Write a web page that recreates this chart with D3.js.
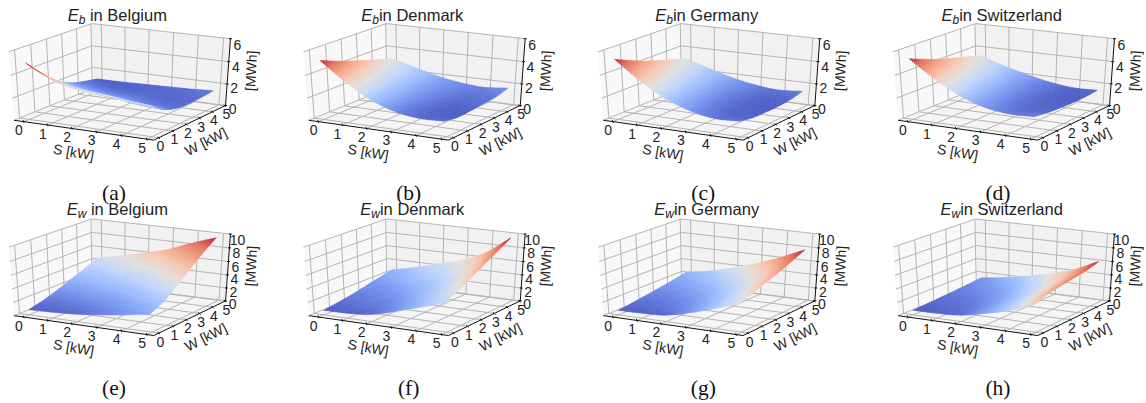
<!DOCTYPE html>
<html>
<head>
<meta charset="utf-8">
<style>
  html, body { margin: 0; background: #fff; }
  svg { display: block; }
  text { font-family: "Liberation Sans", sans-serif; fill: #222; }
  .caption { font-family: "Liberation Serif", serif; font-size: 21.5px; fill: #111; text-anchor: middle; }
  .title { font-size: 16.5px; text-anchor: middle; }
  .tick { font-size: 14px; text-anchor: middle; }
  .axis-label { font-size: 14px; text-anchor: middle; }
</style>
</head>
<body>
<svg id="chart" width="1146" height="403"></svg>
<script src="https://d3js.org/d3.v7.min.js"></script>
<script>
var sTicks = [0, 1, 2, 3, 4, 5];
var wTicks = [0, 1, 2, 3, 4, 5];
var batteryTicks = [0, 2, 4, 6];
var windTicks = [0, 2, 4, 6, 8, 10];

// where the six table rows / columns sit against the drawn axes
var surfaceS = [0, 0.98, 1.96, 2.94, 3.92, 4.9];
var surfaceW = [0, 0.94, 1.88, 2.82, 3.76, 4.7];

// rows run along S, columns along W, values in MWh
var ebBelgium = [[5.0,3.6,2.5,1.8,1.45,1.2],[3.9,2.9,2.1,1.6,1.3,1.2],[3.3,2.5,1.85,1.45,1.25,1.25],[3.15,2.3,1.7,1.4,1.3,1.3],[2.9,2.0,1.5,1.3,1.3,1.35],[2.7,1.85,1.4,1.3,1.35,1.45]];
var ebDenmark = [[5.2,4.7,4.25,3.85,3.45,3.1],[3.65,3.4,3.15,2.95,2.75,2.55],[2.4,2.3,2.2,2.1,2.05,2.0],[1.6,1.55,1.55,1.6,1.6,1.65],[1.3,1.2,1.2,1.3,1.4,1.5],[1.35,1.15,1.2,1.3,1.4,1.7]];
var ebGermany = [[5.3,4.75,4.25,3.85,3.45,3.1],[3.75,3.4,3.1,2.85,2.65,2.45],[2.5,2.3,2.15,2.0,1.9,1.85],[1.7,1.55,1.45,1.4,1.4,1.45],[1.3,1.15,1.1,1.1,1.15,1.25],[1.35,1.1,1.05,1.05,1.15,1.4]];
var ebSwitzerland = [[5.35,4.85,4.4,4.05,3.7,3.35],[3.9,3.6,3.35,3.1,2.9,2.7],[2.75,2.6,2.45,2.3,2.2,2.15],[2.0,1.9,1.8,1.75,1.7,1.7],[1.7,1.55,1.5,1.45,1.45,1.45],[1.75,1.55,1.45,1.4,1.4,1.5]];
var ewBelgium = [[.8,1.3,2.0,2.8,3.6,4.5],[.9,1.4,2.2,3.1,4.1,5.3],[1.1,1.65,2.55,3.6,4.8,6.1],[1.5,2.1,3.05,4.2,5.6,7.05],[2.0,2.75,3.9,5.2,6.9,8.4],[2.6,3.5,5.0,6.6,8.2,9.6]];
var ewDenmark = [[.7,1.0,1.35,1.8,2.25,2.7],[.75,1.15,1.6,2.1,2.8,3.5],[1.05,1.5,2.05,2.75,3.6,4.5],[2.0,2.4,3.0,3.6,4.5,5.45],[3.1,3.6,4.3,5.0,5.9,7.0],[4.2,5.2,6.2,7.4,8.5,9.6]];
var ewGermany = [[.7,.95,1.25,1.6,1.95,2.35],[.75,1.05,1.4,1.85,2.4,2.95],[.95,1.35,1.8,2.4,3.1,3.85],[1.8,2.15,2.6,3.2,4.05,4.95],[2.9,3.3,3.8,4.4,5.3,6.3],[4.1,4.75,5.5,6.2,7.0,7.85]];
var ewSwitzerland = [[.7,.8,.95,1.1,1.25,1.45],[.75,.9,1.05,1.3,1.6,1.95],[.95,1.15,1.4,1.7,2.1,2.6],[1.7,1.9,2.15,2.5,3.0,3.45],[2.6,3.0,3.3,3.7,4.1,4.5],[4.0,4.6,5.0,5.3,5.6,6.15]];

var symbols = ['b', 'b', 'b', 'b', 'w', 'w', 'w', 'w'];
var countries = [' in Belgium', 'in Denmark', 'in Germany', 'in Switzerland', ' in Belgium', 'in Denmark', 'in Germany', 'in Switzerland'];
var captions = ['(a)', '(b)', '(c)', '(d)', '(e)', '(f)', '(g)', '(h)'];
var surfaces = [ebBelgium, ebDenmark, ebGermany, ebSwitzerland, ewBelgium, ewDenmark, ewGermany, ewSwitzerland];

var coolwarmStops = ['#3b4cc0', '#6282ea', '#8db0fe', '#b8d0f9', '#dddcdc', '#f5c4ac', '#f49a7b', '#e0654f', '#b40426'];

var svg = d3.select('#chart');
var colOffsets = [0, 294.7, 589.3, 884];
var rowOffset = 195.4;

var sLimits = [-0.41, 5.27];
var wLimits = [-0.35, 5.05];
var sNorm = d3.scaleLinear().domain(sLimits).range([0, 1]);
var wNorm = d3.scaleLinear().domain(wLimits).range([0, 1]);

var view = {elev: 28, azim: -61, dist: 10, sx: 159.17, cx: 121.59, sy: -76.54, cy: 79.73};

function camera(elev, azim, dist) {
  var e = elev * Math.PI / 180, a = azim * Math.PI / 180;
  var n = [Math.cos(e) * Math.cos(a), Math.cos(e) * Math.sin(a), Math.sin(e)];
  var h = Math.hypot(n[0], n[1]);
  var u = [-n[1] / h, n[0] / h, 0];
  var v = [n[1] * u[2] - n[2] * u[1], n[2] * u[0] - n[0] * u[2], n[0] * u[1] - n[1] * u[0]];
  return function(x, y, z) {
    var q = [x - 0.5, y - 0.5, z - 0.5];
    var t = q[0] * n[0] + q[1] * n[1] + q[2] * n[2];
    var f = dist / (dist - t);
    return [(q[0] * u[0] + q[1] * u[1]) * f, (q[0] * v[0] + q[1] * v[1] + q[2] * v[2]) * f, t];
  };
}
var project = camera(view.elev, view.azim, view.dist);

function catmull(p0, p1, p2, p3, t) {
  return 0.5 * (2 * p1 + (p2 - p0) * t + (2 * p0 - 5 * p1 + 4 * p2 - p3) * t * t + (3 * p1 - p0 - 3 * p2 + p3) * t * t * t);
}
function sampleRow(vals, u) {
  var i = Math.min(Math.floor(u), vals.length - 2), t = u - i;
  var p1 = vals[i], p2 = vals[i + 1];
  var p0 = i > 0 ? vals[i - 1] : 2 * p1 - p2;
  var p3 = i < vals.length - 2 ? vals[i + 2] : 2 * p2 - p1;
  return catmull(p0, p1, p2, p3, t);
}
function sampleGrid(grid, a, b) {
  return sampleRow(grid.map(function(row) { return sampleRow(row, b); }), a);
}

surfaces.forEach(function(grid, idx) {
  var col = idx % 4, row = Math.floor(idx / 4);
  var zTicks = row === 0 ? batteryTicks : windTicks;
  var zTop = d3.max(zTicks);
  var zNorm = d3.scaleLinear().domain([0, zTop]).range([0, 1]);
  var g = svg.append('g').attr('transform', 'translate(' + colOffsets[col] + ',' + (row * rowOffset) + ')');

  function toScreen(x, y, z) {
    var p = project(x, y, z);
    return [view.cx + view.sx * p[0], view.cy + view.sy * p[1], p[2]];
  }
  function dataPoint(s, w, z) {
    return toScreen(sNorm(s), wNorm(w), zNorm(z));
  }
  var line = d3.line();
  var flat = function(pts) { return line(pts.map(function(p) { return [p[0], p[1]]; })); };

  var panes = [
    {pts: [[0,0,0],[0,1,0],[0,1,1],[0,0,1]], fill: '#f8f8f8'},
    {pts: [[0,1,0],[1,1,0],[1,1,1],[0,1,1]], fill: '#f1f1f1'},
    {pts: [[0,0,0],[1,0,0],[1,1,0],[0,1,0]], fill: '#f5f5f5'}
  ];
  g.selectAll('path.pane').data(panes).enter().append('path').attr('class', 'pane')
    .attr('d', function(d) { return flat(d.pts.map(function(p) { return toScreen(p[0], p[1], p[2]); })) + 'Z'; })
    .attr('fill', function(d) { return d.fill; });

  var gridLines = [];
  sTicks.forEach(function(s) {
    gridLines.push([dataPoint(s, wLimits[0], 0), dataPoint(s, wLimits[1], 0), dataPoint(s, wLimits[1], zTop)]);
  });
  wTicks.forEach(function(w) {
    gridLines.push([dataPoint(sLimits[1], w, 0), dataPoint(sLimits[0], w, 0), dataPoint(sLimits[0], w, zTop)]);
  });
  zTicks.forEach(function(z) {
    gridLines.push([dataPoint(sLimits[0], wLimits[0], z), dataPoint(sLimits[0], wLimits[1], z), dataPoint(sLimits[1], wLimits[1], z)]);
  });
  g.selectAll('path.grid').data(gridLines).enter().append('path').attr('class', 'grid')
    .attr('d', flat)
    .attr('fill', 'none').attr('stroke', '#b4b4b4').attr('stroke-width', 1);

  // axis lines with their ticks
  var axisLines = [
    [dataPoint(sLimits[0], wLimits[0], 0), dataPoint(sLimits[1], wLimits[0], 0)],
    [dataPoint(sLimits[1], wLimits[0], 0), dataPoint(sLimits[1], wLimits[1], 0)],
    [dataPoint(sLimits[1], wLimits[1], 0), dataPoint(sLimits[1], wLimits[1], zTop)]
  ];
  sTicks.forEach(function(s) {
    var p = dataPoint(s, wLimits[0], 0);
    axisLines.push([[p[0] - 0.6, p[1] - 1.5], [p[0] + 0.3, p[1] + 1.2]]);
  });
  wTicks.forEach(function(w) {
    var p = dataPoint(sLimits[1], w, 0);
    axisLines.push([[p[0] - 1.2, p[1] - 1], [p[0] + 1.2, p[1] + 1]]);
  });
  zTicks.forEach(function(z) {
    var p = dataPoint(sLimits[1], wLimits[1], z);
    axisLines.push([[p[0] - 1.5, p[1]], [p[0] + 1.5, p[1]]]);
  });
  g.selectAll('path.axis').data(axisLines).enter().append('path').attr('class', 'axis')
    .attr('d', flat)
    .attr('fill', 'none').attr('stroke', '#111').attr('stroke-width', 1);

  // surface, split into small facets and painted far to near
  var zMin = d3.min(grid, function(r) { return d3.min(r); });
  var zMax = d3.max(grid, function(r) { return d3.max(r); });
  var colour = d3.scaleLinear().domain(d3.range(coolwarmStops.length).map(function(i) { return zMin + (zMax - zMin) * i / (coolwarmStops.length - 1); })).range(coolwarmStops);
  var sPos = d3.scaleLinear().domain([0, 5]).range([surfaceS[0], surfaceS[5]]);
  var wPos = d3.scaleLinear().domain([0, 5]).range([surfaceW[0], surfaceW[5]]);
  var steps = 40, facets = [];
  for (var i = 0; i < steps; i++) for (var j = 0; j < steps; j++) {
    var cell = [[i, j], [i + 1, j], [i + 1, j + 1], [i, j + 1]].map(function(c) {
      var a = c[0] * 5 / steps, b = c[1] * 5 / steps, z = sampleGrid(grid, a, b);
      return {z: z, p: dataPoint(sPos(a), wPos(b), z)};
    });
    facets.push({
      d: flat(cell.map(function(c) { return c.p; })) + 'Z',
      depth: d3.mean(cell, function(c) { return c.p[2]; }),
      fill: d3.interpolateRgb(colour(d3.mean(cell, function(c) { return c.z; })), '#ffffff')(0.1)
    });
  }
  facets.sort(function(a, b) { return a.depth - b.depth; });
  g.selectAll('path.facet').data(facets).enter().append('path').attr('class', 'facet')
    .attr('d', function(d) { return d.d; })
    .attr('fill', function(d) { return d.fill; })
    .attr('stroke', function(d) { return d.fill; })
    .attr('stroke-width', 0.5);

  // tick labels
  sTicks.forEach(function(s) {
    var p = dataPoint(s, wLimits[0], 0);
    g.append('text').attr('class', 'tick').attr('x', p[0] - 4.8).attr('y', p[1] + 13.5).text(s);
  });
  wTicks.forEach(function(w) {
    var p = dataPoint(sLimits[1], w, 0);
    g.append('text').attr('class', 'tick').attr('x', p[0] + 1.5).attr('y', p[1] + 13.5).text(w);
  });
  zTicks.forEach(function(z) {
    var p = dataPoint(sLimits[1], wLimits[1], z);
    g.append('text').attr('class', 'tick').attr('x', p[0] + 7).attr('y', p[1] + 8.5 + 2.5 * z / zTop).text(z);
  });
  g.append('text').attr('class', 'axis-label').attr('transform', 'translate(72.7,157) rotate(10)').text('S [kW]');
  g.append('text').attr('class', 'axis-label').attr('transform', 'translate(208,146) rotate(-27)').text('W [kW]');
  g.append('text').attr('class', 'axis-label').attr('transform', 'translate(256,71) rotate(-87)').text('[MWh]');

  var titleX = [117.3, 117.6, 117.4, 117.7][col];
  var title = g.append('text').attr('class', 'title').attr('x', titleX).attr('y', row === 0 ? 21 : 19.3);
  title.append('tspan').attr('font-style', 'italic').text('E');
  title.append('tspan').attr('font-style', 'italic').attr('font-size', '12px').attr('dy', 3).text(symbols[idx]);
  title.append('tspan').attr('dy', -3).attr('xml:space', 'preserve').text(countries[idx]);

  g.append('text').attr('class', 'caption').attr('x', 114).attr('y', row === 0 ? 200 : 199.3).text(captions[idx]);
});
</script>
</body>
</html>
